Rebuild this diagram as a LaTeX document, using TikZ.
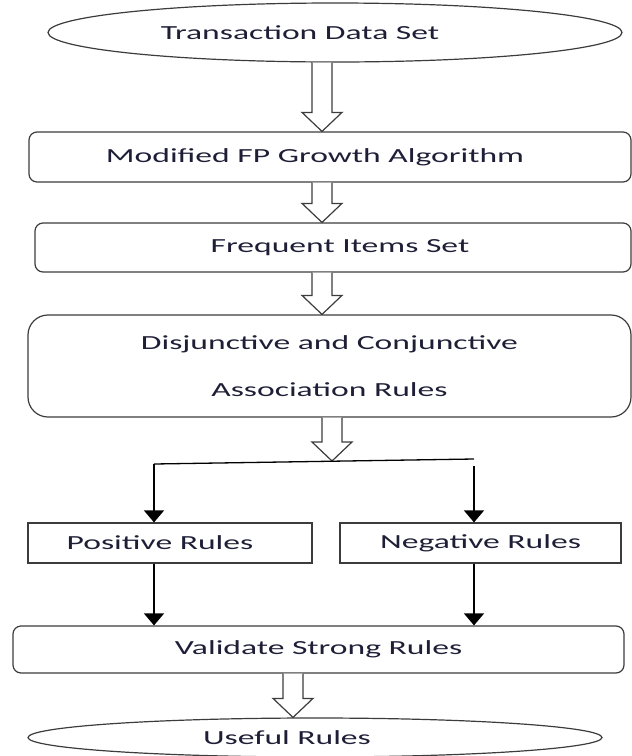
\documentclass[tikz,border=0pt]{standalone}
\usepackage{fontspec}
\setmainfont{Carlito}
\usepackage{graphicx}
\usetikzlibrary{positioning, shapes.geometric, arrows.meta, calc}

\definecolor{inkline}{RGB}{60,60,60}
\definecolor{inktext}{RGB}{30,30,55}
\newcommand{\wide}[1]{\scalebox{1.68}[1]{#1}}
\newcommand{\fatarrow}[3]{%
  \draw[fat] let \p1=(#2), \p2=(#3) in
    (#1pt-10pt,\y1) -- (#1pt-10pt,\y2+19pt) -- (#1pt-20pt,\y2+19pt) -- (#1pt,\y2)
    -- (#1pt+20pt,\y2+19pt) -- (#1pt+10pt,\y2+19pt) -- (#1pt+10pt,\y1);}

\begin{document}
\begin{tikzpicture}[
        x=1pt, y=-1pt,
        stage/.style={draw=inkline, line width=1.2pt, rounded corners=8pt, inner sep=0pt,
          text=inktext, font=\fontsize{20}{24}\selectfont},
        terminal/.style={stage, ellipse},
        rulebox/.style={stage, sharp corners},
        fat/.style={draw=inkline, line width=1.2pt, fill=white},
        flow/.style={draw=black, line width=1.3pt, -{Triangle[width=20pt,length=12pt]}},
      ]
      \useasboundingbox (0,0) rectangle (632,756);
      \node[terminal, minimum width=574pt, minimum height=59pt] (data) at (335,32.5)
        {\wide{Transaction Data Set}\hspace*{70pt}};
      \node[stage, minimum width=602pt, minimum height=50pt] (fpg) at (330,157)
        {\wide{Modified FP Growth Algorithm}\hspace*{30pt}};
      \node[stage, minimum width=596pt, minimum height=49pt] (freq) at (333,247.5)
        {\hspace*{14pt}\wide{Frequent Items Set}};
      \node[stage, rounded corners=20pt, minimum width=603pt, minimum height=102pt, align=center] (dcar) at (329.5,366)
        {\wide{Disjunctive and Conjunctive}\\[23pt]\wide{Association Rules}};
      \node[rulebox, minimum width=284pt, minimum height=40pt] (pos) at (170,543)
        {\wide{Positive Rules}\hspace*{20pt}};
      \node[rulebox, minimum width=281pt, minimum height=40pt] (neg) at (480.5,543)
        {\wide{Negative Rules}};
      \node[stage, minimum width=611pt, minimum height=47pt] (val) at (318.5,649.5)
        {\wide{Validate Strong Rules}};
      \node[terminal, minimum width=574pt, minimum height=39pt] (use) at (315,737.5)
        {\wide{Useful Rules}\hspace*{56pt}};
      % fork under the association rules
      \coordinate (fork) at (332,461);
      \coordinate (forkL) at (154,464);
      \coordinate (forkR) at (474,459);
      \coordinate (forkRb) at (474,466);
      \fatarrow{322}{data.south}{fpg.north}
      \fatarrow{322}{fpg.south}{freq.north}
      \fatarrow{322}{freq.south}{dcar.north}
      \fatarrow{332}{dcar.south}{fork}
      \draw[black, line width=1.3pt] (forkL) -- (forkR);
      \draw[flow] (forkL) -- (forkL |- pos.north);
      \draw[flow] (forkRb) -- (forkRb |- neg.north);
      \draw[flow] (pos.south -| forkL) -- (forkL |- val.north);
      \draw[flow] (neg.south -| forkRb) -- (forkRb |- val.north);
      \fatarrow{293}{val.south}{use.north}
    \end{tikzpicture}
\end{document}
